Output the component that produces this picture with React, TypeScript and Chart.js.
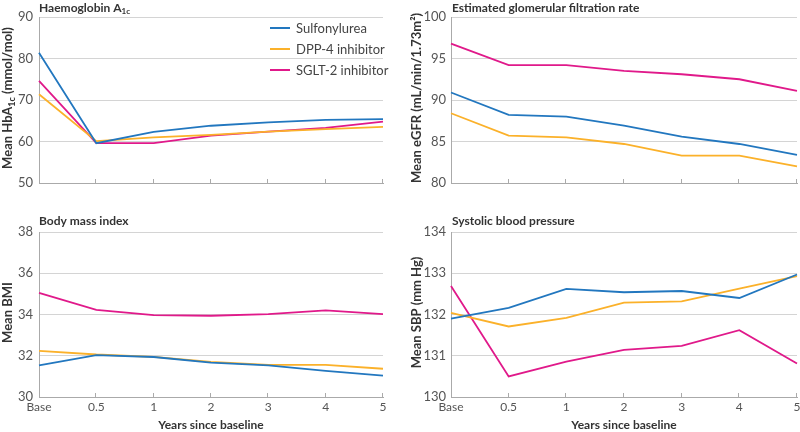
import React, { useEffect, useRef } from "react";
import { Chart, registerables } from "chart.js";

Chart.register(...registerables);

const years = ["Base", "0.5", "1", "2", "3", "4", "5"];
const seriesNames = ["Sulfonylurea", "DPP-4 inhibitor", "SGLT-2 inhibitor"];
const seriesColors = ["#2277bf", "#fbb12a", "#e0198a"];

const hba1cSU = [81.4, 59.6, 62.3, 63.8, 64.6, 65.2, 65.4];
const hba1cDPP = [71.4, 60.1, 61.0, 61.6, 62.4, 63.0, 63.5];
const hba1cSGLT = [74.6, 59.6, 59.6, 61.4, 62.4, 63.3, 64.8];

const egfrSU = [90.9, 88.2, 88.0, 86.9, 85.6, 84.7, 83.4];
const egfrDPP = [88.4, 85.7, 85.5, 84.7, 83.3, 83.3, 82.0];
const egfrSGLT = [96.8, 94.2, 94.2, 93.5, 93.1, 92.5, 91.1];

const bmiSU = [31.53, 32.03, 31.94, 31.67, 31.53, 31.27, 31.04];
const bmiDPP = [32.24, 32.06, 31.95, 31.7, 31.56, 31.56, 31.37];
const bmiSGLT = [35.05, 34.22, 33.97, 33.94, 34.02, 34.2, 34.02];

const sbpSU = [131.9, 132.16, 132.62, 132.54, 132.57, 132.4, 132.97];
const sbpDPP = [132.04, 131.71, 131.92, 132.29, 132.32, 132.63, 132.93];
const sbpSGLT = [132.69, 130.5, 130.86, 131.14, 131.24, 131.62, 130.81];

type Seg = { t: string; sub?: boolean; sup?: boolean };

const FONT = "Lato, 'Open Sans', sans-serif";

function segFont(s: Seg, size: number) {
  const small = s.sub || s.sup;
  return `bold ${small ? Math.round(size * 0.68) : size}px ${FONT}`;
}

function segWidth(ctx: CanvasRenderingContext2D, segs: Seg[], size: number) {
  let w = 0;
  for (const s of segs) {
    ctx.font = segFont(s, size);
    w += ctx.measureText(s.t).width;
  }
  return w;
}

function drawSegs(ctx: CanvasRenderingContext2D, segs: Seg[], x: number, y: number, size: number) {
  let cx = x;
  for (const s of segs) {
    ctx.font = segFont(s, size);
    const dy = s.sub ? size * 0.3 : s.sup ? -size * 0.3 : 0;
    ctx.fillText(s.t, cx, y + dy);
    cx += ctx.measureText(s.t).width;
  }
}

const decorPlugin = {
  id: "decor",
  afterDraw(chart: any, _args: any, opts: any) {
    const ctx: CanvasRenderingContext2D = chart.ctx;
    const area = chart.chartArea;
    const xs = chart.scales.x;
    ctx.save();
    // inward tick marks
    ctx.strokeStyle = "#aaaaaa";
    ctx.lineWidth = 1;
    xs.ticks.forEach((_t: any, i: number) => {
      if (i === 0) return;
      const px = Math.round(xs.getPixelForTick(i)) - 0.5;
      ctx.beginPath();
      ctx.moveTo(px, area.bottom);
      ctx.lineTo(px, area.bottom - 4);
      ctx.stroke();
    });
    // panel title
    ctx.fillStyle = "#333333";
    ctx.textBaseline = "middle";
    ctx.textAlign = "left";
    drawSegs(ctx, opts.title, opts.titleX, opts.titleY, 12);
    // y title rotated
    const w = segWidth(ctx, opts.yTitle, 13);
    ctx.save();
    ctx.translate(opts.yTitleX, (area.top + area.bottom) / 2 - 2);
    ctx.rotate(-Math.PI / 2);
    drawSegs(ctx, opts.yTitle, -w / 2, 0, 13);
    ctx.restore();
    // legend
    if (opts.legend) {
      const ys = [28, 49, 70];
      seriesNames.forEach((name, i) => {
        ctx.strokeStyle = seriesColors[i];
        ctx.lineWidth = 2;
        ctx.beginPath();
        ctx.moveTo(270, ys[i]);
        ctx.lineTo(290, ys[i]);
        ctx.stroke();
        ctx.fillStyle = "#444444";
        ctx.font = `13px ${FONT}`;
        ctx.fillText(name, 296, ys[i] + 0.5);
      });
    }
    ctx.restore();
  },
};

type Panel = {
  left: number;
  top: number;
  data: number[][];
  min: number;
  max: number;
  step: number;
  title: Seg[];
  yTitle: Seg[];
  showX: boolean;
  legend: boolean;
  yWidth: number;
  padTop: number;
  padRight: number;
  xHeight: number;
  titleX: number;
  titleY: number;
  yTitleX: number;
  yPad: number;
};

const panels: Panel[] = [
  {
    left: 0, top: 0,
    data: [hba1cSU, hba1cDPP, hba1cSGLT],
    min: 50, max: 90, step: 10,
    title: [{ t: "Haemoglobin A" }, { t: "1c", sub: true }],
    yTitle: [{ t: "Mean HbA" }, { t: "1c", sub: true }, { t: " (mmol/mol)" }],
    showX: false, legend: true,
    yWidth: 39, padTop: 17, padRight: 17, xHeight: 33,
    titleX: 39, titleY: 8, yTitleX: 8, yPad: 6,
  },
  {
    left: 400, top: 0,
    data: [egfrSU, egfrDPP, egfrSGLT],
    min: 80, max: 100, step: 5,
    title: [{ t: "Estimated glomerular filtration rate" }],
    yTitle: [{ t: "Mean eGFR (mL/min/1.73m²)" }],
    showX: false, legend: false,
    yWidth: 51, padTop: 17, padRight: 3, xHeight: 33,
    titleX: 52, titleY: 8, yTitleX: 17, yPad: 5,
  },
  {
    left: 0, top: 216,
    data: [bmiSU, bmiDPP, bmiSGLT],
    min: 30, max: 38, step: 2,
    title: [{ t: "Body mass index" }],
    yTitle: [{ t: "Mean BMI" }],
    showX: true, legend: false,
    yWidth: 39, padTop: 16, padRight: 17, xHeight: 35,
    titleX: 39, titleY: 5, yTitleX: 8, yPad: 6,
  },
  {
    left: 400, top: 216,
    data: [sbpSU, sbpDPP, sbpSGLT],
    min: 130, max: 134, step: 1,
    title: [{ t: "Systolic blood pressure" }],
    yTitle: [{ t: "Mean SBP (mm Hg)" }],
    showX: true, legend: false,
    yWidth: 51, padTop: 16, padRight: 3, xHeight: 35,
    titleX: 52, titleY: 5, yTitleX: 17, yPad: 5,
  },
];

function PanelChart({ p }: { p: Panel }) {
  const ref = useRef<HTMLCanvasElement>(null);
  useEffect(() => {
    if (!ref.current) return;
    const chart = new Chart(ref.current, {
      type: "line",
      data: {
        labels: years,
        datasets: p.data.map((d, i) => ({
          label: seriesNames[i],
          data: d,
          borderColor: seriesColors[i],
          backgroundColor: seriesColors[i],
          borderWidth: 1.8,
          pointRadius: 0,
          tension: 0,
          fill: false,
        })),
      },
      options: {
        responsive: false,
        animation: false,
        devicePixelRatio: 1,
        layout: { padding: { top: p.padTop, right: p.padRight, left: 0, bottom: 0 } },
        plugins: {
          legend: { display: false },
          tooltip: { enabled: false },
          title: { display: false },
          decor: {
            title: p.title,
            yTitle: p.yTitle,
            titleX: p.titleX,
            titleY: p.titleY,
            yTitleX: p.yTitleX,
            legend: p.legend,
          },
        } as any,
        scales: {
          x: {
            type: "category",
            offset: false,
            grid: { display: false, drawTicks: false },
            border: { display: true, color: "#aaaaaa", width: 1 },
            ticks: {
              display: p.showX,
              padding: 3,
              color: "#555555",
              font: { family: FONT, size: 12 },
              maxRotation: 0,
              autoSkip: false,
            },
            title: {
              display: p.showX,
              text: "Years since baseline",
              color: "#333333",
              font: { family: FONT, size: 12, weight: "bold" },
              padding: 0,
            },
            afterFit: (s: any) => {
              s.height = p.xHeight;
              s.paddingRight = 0;
              s.paddingLeft = 0;
            },
          },
          y: {
            type: "linear",
            min: p.min,
            max: p.max,
            grid: { display: true, color: "#d4d4d4", lineWidth: 1, drawTicks: false },
            border: { display: true, color: "#aaaaaa", width: 1 },
            ticks: {
              stepSize: p.step,
              padding: p.yPad,
              color: "#555555",
              font: { family: FONT, size: 13 },
            },
            afterFit: (s: any) => {
              s.width = p.yWidth;
            },
          },
        },
      } as any,
      plugins: [decorPlugin],
    });
    return () => chart.destroy();
  }, [p]);
  return (
    <canvas
      ref={ref}
      width={400}
      height={216}
      style={{ position: "absolute", left: p.left, top: p.top, width: 400, height: 216 }}
    />
  );
}

export default function App() {
  return (
    <div
      style={{
        position: "fixed",
        left: 0,
        top: 0,
        width: 800,
        height: 432,
        background: "#ffffff",
        overflow: "hidden",
      }}
    >
      {panels.map((p, i) => (
        <PanelChart key={i} p={p} />
      ))}
    </div>
  );
}
